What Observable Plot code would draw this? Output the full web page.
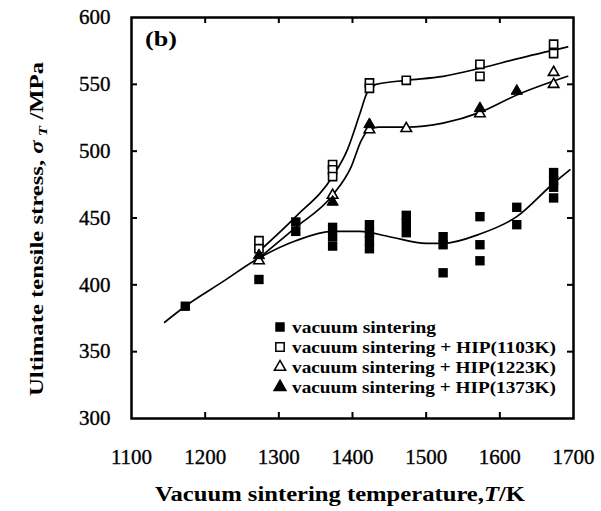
<!DOCTYPE html>
<html><head><meta charset="utf-8">
<script src="https://cdn.jsdelivr.net/npm/d3@7"></script>
<script src="https://cdn.jsdelivr.net/npm/@observablehq/plot@0.6"></script>
<style>html,body{margin:0;padding:0;background:#fff}svg{display:block}svg text{font-family:'Liberation Serif','Times New Roman',Times,serif !important}</style>
</head><body><div id="chart"></div>
<script>
// ---- tick values ----
const xTicks = [1100, 1200, 1300, 1400, 1500, 1600, 1700];
const yTicks = [300, 350, 400, 450, 500, 550, 600];
const xInnerTicks = [1200, 1300, 1400, 1500, 1600];
const yInnerTicks = [350, 400, 450, 500, 550];

// ---- measured points [T (K), stress (MPa)] ----
const vacuumSintering = [
  [1173, 384],
  [1273, 404],
  [1323, 447], [1323, 440],
  [1373, 443], [1373, 436], [1373, 429],
  [1423, 445], [1423, 439], [1423, 433], [1423, 427],
  [1473, 452], [1473, 446], [1473, 439],
  [1523, 436], [1523, 430], [1523, 409],
  [1573, 451], [1573, 430], [1573, 418],
  [1623, 458], [1623, 445],
  [1673, 484], [1673, 478], [1673, 473], [1673, 465]
];
const hip1103 = [
  [1273, 433], [1273, 427],
  [1373, 490], [1373, 486], [1373, 481],
  [1423, 551], [1423, 547],
  [1473, 553],
  [1573, 565], [1573, 556],
  [1673, 580], [1673, 573]
];
const hip1223 = [
  [1273, 418],
  [1373, 467],
  [1423, 516],
  [1473, 517],
  [1573, 528],
  [1673, 559], [1673, 550]
];
const hip1373 = [
  [1273, 422],
  [1373, 462],
  [1423, 520],
  [1573, 532],
  [1623, 545]
];

// ---- fitted curves ----
const vacuumCurve = [
  [1145, 372], [1173, 384], [1223, 402], [1273, 420], [1323, 433], [1373, 440],
  [1410, 440], [1450, 436], [1500, 431], [1523, 431], [1573, 438], [1623, 451],
  [1673, 476], [1695, 486]
];
const hip1103Curve = [
  [1273, 425], [1323, 451], [1373, 481], [1393, 501], [1410, 528], [1420, 544],
  [1432, 550], [1473, 553], [1523, 556], [1573, 562], [1623, 569], [1692, 578]
];
const hip1223Curve = [
  [1273, 420], [1323, 443], [1373, 467], [1398, 488], [1412, 508], [1422, 516],
  [1435, 518], [1473, 518], [1523, 521], [1573, 529], [1623, 542], [1692, 556]
];

const legendLabels = [
  "vacuum sintering",
  "vacuum sintering + HIP(1103K)",
  "vacuum sintering + HIP(1223K)",
  "vacuum sintering + HIP(1373K)"
];

const serif = "'Liberation Serif','Times New Roman',Times,serif";
const X = d => d[0], Y = d => d[1];

const plot = Plot.plot({
  width: 601, height: 511,
  marginLeft: 131, marginRight: 28, marginTop: 17, marginBottom: 93,
  style: {fontFamily: serif, background: "#fff", color: "#000", overflow: "visible"},
  x: {domain: [1100, 1700]},
  y: {domain: [300, 600]},
  marks: [
    Plot.axisX(xTicks, {tickSize: 0, tickPadding: 31, fontSize: 21, label: null, tickFormat: d => String(d)}),
    Plot.axisY(yTicks, {tickSize: 0, tickPadding: 21, fontSize: 21, label: null, tickFormat: d => String(d)}),
    // inward ticks
    Plot.ruleX(xInnerTicks, {x: d => d, y1: 300, y2: 300, insetTop: -6, stroke: "#000", strokeWidth: 2}),
    Plot.ruleX(xInnerTicks, {x: d => d, y1: 600, y2: 600, insetBottom: -6, stroke: "#000", strokeWidth: 2}),
    Plot.ruleY(yInnerTicks, {y: d => d, x1: 1100, x2: 1100, insetRight: -6, stroke: "#000", strokeWidth: 2}),
    Plot.ruleY(yInnerTicks, {y: d => d, x1: 1700, x2: 1700, insetLeft: -6, stroke: "#000", strokeWidth: 2}),
    // curves
    Plot.line(vacuumCurve, {x: X, y: Y, curve: "monotone-x", stroke: "#000", strokeWidth: 1.7}),
    Plot.line(hip1103Curve, {x: X, y: Y, curve: "monotone-x", stroke: "#000", strokeWidth: 1.7}),
    Plot.line(hip1223Curve, {x: X, y: Y, curve: "monotone-x", stroke: "#000", strokeWidth: 1.7}),
    // points
    Plot.dot(vacuumSintering, {x: X, y: Y, symbol: "square", r: 5.3, fill: "#000", stroke: "none"}),
    Plot.dot(hip1103, {x: X, y: Y, symbol: "square", r: 4.6, fill: "#fff", stroke: "#000", strokeWidth: 1.6}),
    Plot.dot(hip1223, {x: X, y: Y, symbol: "triangle", r: 3.9, fill: "#fff", stroke: "#000", strokeWidth: 1.6}),
    Plot.dot(hip1373, {x: X, y: Y, symbol: "triangle", r: 4.2, fill: "#000", stroke: "#000", strokeWidth: 1}),
    Plot.frame({stroke: "#000", strokeWidth: 2.5})
  ]
});

document.getElementById("chart").appendChild(plot);
const svg = d3.select(plot);
// slightly heavier tick labels, like the scanned original
svg.selectAll("g[aria-label*='tick label']").attr("stroke", "#000").attr("stroke-width", 0.35);

const g = svg.append("g").attr("font-family", serif).attr("fill", "#000").attr("text-anchor", "start");

// panel label
g.append("text").attr("x", 145).attr("y", 46).attr("font-size", 20).attr("font-weight", "bold")
  .attr("textLength", 32).attr("lengthAdjust", "spacingAndGlyphs").text("(b)");

// x axis title
const xt = g.append("text").attr("x", 155).attr("y", 501).attr("font-size", 20).attr("font-weight", "bold")
  .attr("textLength", 370).attr("lengthAdjust", "spacingAndGlyphs");
xt.append("tspan").text("Vacuum sintering temperature,");
xt.append("tspan").attr("font-style", "italic").text("T");
xt.append("tspan").text("/K");

// y axis title
const yt = g.append("text").attr("transform", "translate(43,396) rotate(-90)").attr("font-size", 19).attr("font-weight", "bold")
  .attr("textLength", 334).attr("lengthAdjust", "spacingAndGlyphs");
yt.append("tspan").text("Ultimate tensile stress, ");
yt.append("tspan").attr("font-style", "italic").text("σ");
yt.append("tspan").attr("font-style", "italic").attr("font-size", 13).attr("dy", 4).text(" T");
yt.append("tspan").attr("dy", -4).text(" /MPa");

// legend
const rows = [327, 347, 367, 387];
const lx = 280;
const symbols = [
  {type: d3.symbolSquare, size: 90, fill: "#000", stroke: "none"},
  {type: d3.symbolSquare, size: 70, fill: "#fff", stroke: "#000"},
  {type: d3.symbolTriangle, size: 55, fill: "#fff", stroke: "#000"},
  {type: d3.symbolTriangle, size: 60, fill: "#000", stroke: "#000"}
];
legendLabels.forEach((label, i) => {
  const s = symbols[i];
  g.append("path").attr("d", d3.symbol(s.type, s.size)())
    .attr("transform", `translate(${lx},${rows[i]})`)
    .attr("fill", s.fill).attr("stroke", s.stroke).attr("stroke-width", 1.5);
  g.append("text").attr("x", 292).attr("y", rows[i] + 5.5).attr("font-size", 17).attr("font-weight", "bold")
    .attr("textLength", i === 0 ? 144 : 264).attr("lengthAdjust", "spacingAndGlyphs").text(label);
});
</script>
</body></html>
